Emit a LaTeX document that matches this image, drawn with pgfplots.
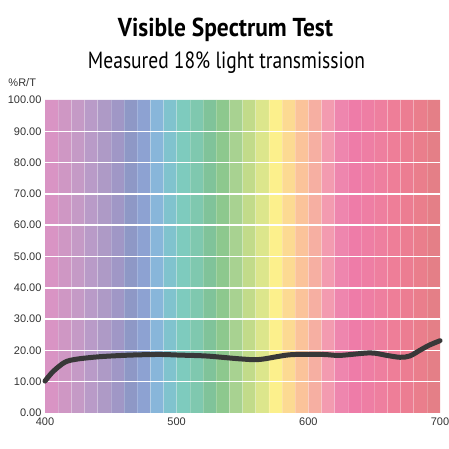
\documentclass[border=0pt]{standalone}
\usepackage{graphicx}
\usepackage{fontspec}
\setmainfont{Liberation Sans}
\newfontfamily\titlefont{PT Sans}
\usepackage{pgfplots}
\pgfplotsset{compat=1.18}
\definecolor{s1}{HTML}{D994C4}
\definecolor{s2}{HTML}{CF97C4}
\definecolor{s3}{HTML}{C59AC6}
\definecolor{s4}{HTML}{B99BC8}
\definecolor{s5}{HTML}{AE9AC6}
\definecolor{s6}{HTML}{A097C6}
\definecolor{s7}{HTML}{8E98C6}
\definecolor{s8}{HTML}{8DA2D2}
\definecolor{s9}{HTML}{88B6DA}
\definecolor{s10}{HTML}{80C3CE}
\definecolor{s11}{HTML}{7ECBBE}
\definecolor{s12}{HTML}{7FC8AF}
\definecolor{s13}{HTML}{80C39A}
\definecolor{s14}{HTML}{8DC88E}
\definecolor{s15}{HTML}{A8D291}
\definecolor{s16}{HTML}{C2DB8A}
\definecolor{s17}{HTML}{DCE68C}
\definecolor{s18}{HTML}{FCF08C}
\definecolor{s19}{HTML}{FCDA92}
\definecolor{s20}{HTML}{FBC39A}
\definecolor{s21}{HTML}{F6AFA2}
\definecolor{s22}{HTML}{F39BB0}
\definecolor{s23}{HTML}{EE86AE}
\definecolor{s24}{HTML}{EE7CA8}
\definecolor{s25}{HTML}{EE7EA4}
\definecolor{s26}{HTML}{EE7F9F}
\definecolor{s27}{HTML}{EE7E98}
\definecolor{s28}{HTML}{EC7D92}
\definecolor{s29}{HTML}{EA7E8C}
\definecolor{s30}{HTML}{E47F87}
\definecolor{curve}{HTML}{383838}
\definecolor{ticktext}{HTML}{333333}
\begin{document}
\begin{tikzpicture}[x=1bp,y=1bp]
\path[use as bounding box] (0,0) rectangle (449,449);
\node[anchor=base] at (225.5,412.3) {\resizebox{215bp}{18.5bp}{\titlefont\bfseries Visible Spectrum Test}};
\node[anchor=base] at (226.5,380.7) {\resizebox{277bp}{16.7bp}{\titlefont Measured 18\% light transmission}};
\node[anchor=base west, inner sep=0pt, text=ticktext, font=\fontsize{11bp}{13bp}\selectfont] at (8.3,362.3) {\%R/T};
\begin{axis}[
  at={(45bp,36bp)}, anchor=south west,
  scale only axis, width=395bp, height=313bp,
  xmin=400, xmax=700, ymin=0, ymax=100,
  axis line style={draw=none},
  major tick length=0pt, minor tick length=0pt,
  xtick={400,500,600,700},
  ytick={0,10,...,100},
  tick label style={font=\fontsize{11bp}{13bp}\selectfont, text=ticktext},
  /pgf/number format/assume math mode=true,
  yticklabel style={/pgf/number format/.cd, fixed, fixed zerofill, precision=2},
  xticklabel style={yshift=-1.6bp},
  clip=false,
  unbounded coords=jump,
]
\addplot[fill=s1,draw=none] coordinates {(400,0)(400,100)(410,100)(410,0)} \closedcycle;
\addplot[fill=s2,draw=none] coordinates {(410,0)(410,100)(420,100)(420,0)} \closedcycle;
\addplot[fill=s3,draw=none] coordinates {(420,0)(420,100)(430,100)(430,0)} \closedcycle;
\addplot[fill=s4,draw=none] coordinates {(430,0)(430,100)(440,100)(440,0)} \closedcycle;
\addplot[fill=s5,draw=none] coordinates {(440,0)(440,100)(450,100)(450,0)} \closedcycle;
\addplot[fill=s6,draw=none] coordinates {(450,0)(450,100)(460,100)(460,0)} \closedcycle;
\addplot[fill=s7,draw=none] coordinates {(460,0)(460,100)(470,100)(470,0)} \closedcycle;
\addplot[fill=s8,draw=none] coordinates {(470,0)(470,100)(480,100)(480,0)} \closedcycle;
\addplot[fill=s9,draw=none] coordinates {(480,0)(480,100)(490,100)(490,0)} \closedcycle;
\addplot[fill=s10,draw=none] coordinates {(490,0)(490,100)(500,100)(500,0)} \closedcycle;
\addplot[fill=s11,draw=none] coordinates {(500,0)(500,100)(510,100)(510,0)} \closedcycle;
\addplot[fill=s12,draw=none] coordinates {(510,0)(510,100)(520,100)(520,0)} \closedcycle;
\addplot[fill=s13,draw=none] coordinates {(520,0)(520,100)(530,100)(530,0)} \closedcycle;
\addplot[fill=s14,draw=none] coordinates {(530,0)(530,100)(540,100)(540,0)} \closedcycle;
\addplot[fill=s15,draw=none] coordinates {(540,0)(540,100)(550,100)(550,0)} \closedcycle;
\addplot[fill=s16,draw=none] coordinates {(550,0)(550,100)(560,100)(560,0)} \closedcycle;
\addplot[fill=s17,draw=none] coordinates {(560,0)(560,100)(570,100)(570,0)} \closedcycle;
\addplot[fill=s18,draw=none] coordinates {(570,0)(570,100)(580,100)(580,0)} \closedcycle;
\addplot[fill=s19,draw=none] coordinates {(580,0)(580,100)(590,100)(590,0)} \closedcycle;
\addplot[fill=s20,draw=none] coordinates {(590,0)(590,100)(600,100)(600,0)} \closedcycle;
\addplot[fill=s21,draw=none] coordinates {(600,0)(600,100)(610,100)(610,0)} \closedcycle;
\addplot[fill=s22,draw=none] coordinates {(610,0)(610,100)(620,100)(620,0)} \closedcycle;
\addplot[fill=s23,draw=none] coordinates {(620,0)(620,100)(630,100)(630,0)} \closedcycle;
\addplot[fill=s24,draw=none] coordinates {(630,0)(630,100)(640,100)(640,0)} \closedcycle;
\addplot[fill=s25,draw=none] coordinates {(640,0)(640,100)(650,100)(650,0)} \closedcycle;
\addplot[fill=s26,draw=none] coordinates {(650,0)(650,100)(660,100)(660,0)} \closedcycle;
\addplot[fill=s27,draw=none] coordinates {(660,0)(660,100)(670,100)(670,0)} \closedcycle;
\addplot[fill=s28,draw=none] coordinates {(670,0)(670,100)(680,100)(680,0)} \closedcycle;
\addplot[fill=s29,draw=none] coordinates {(680,0)(680,100)(690,100)(690,0)} \closedcycle;
\addplot[fill=s30,draw=none] coordinates {(690,0)(690,100)(700,100)(700,0)} \closedcycle;
% faint stripe separators
\addplot[white, opacity=0.2, line width=0.6bp] coordinates {
(410,0)(410,100)(415,nan)(420,0)(420,100)(425,nan)(430,0)(430,100)(435,nan)
(440,0)(440,100)(445,nan)(450,0)(450,100)(455,nan)(460,0)(460,100)(465,nan)
(470,0)(470,100)(475,nan)(480,0)(480,100)(485,nan)(490,0)(490,100)(495,nan)
(500,0)(500,100)(505,nan)(510,0)(510,100)(515,nan)(520,0)(520,100)(525,nan)
(530,0)(530,100)(535,nan)(540,0)(540,100)(545,nan)(550,0)(550,100)(555,nan)
(560,0)(560,100)(565,nan)(570,0)(570,100)(575,nan)(580,0)(580,100)(585,nan)
(590,0)(590,100)(595,nan)(600,0)(600,100)(605,nan)(610,0)(610,100)(615,nan)
(620,0)(620,100)(625,nan)(630,0)(630,100)(635,nan)(640,0)(640,100)(645,nan)
(650,0)(650,100)(655,nan)(660,0)(660,100)(665,nan)(670,0)(670,100)(675,nan)
(680,0)(680,100)(685,nan)(690,0)(690,100)};
% horizontal grid
\addplot[white, line width=1.5bp] coordinates {
(400,10)(700,10)(550,nan)(400,20)(700,20)(550,nan)(400,30)(700,30)(550,nan)
(400,40)(700,40)(550,nan)(400,50)(700,50)(550,nan)(400,60)(700,60)(550,nan)
(400,70)(700,70)(550,nan)(400,80)(700,80)(550,nan)(400,90)(700,90)};
% measured curve
\addplot[curve, line width=5bp, line cap=round, line join=round, smooth, tension=0.5] coordinates {
(400,10.2)(406,13.2)(415,16.2)(424,17.2)(442,18.0)(465,18.5)(487,18.7)(502,18.5)
(523,18.2)(548,17.3)(563,17.1)(586,18.6)(611,18.7)(624,18.4)(647,19.2)(659.5,18.4)
(669.6,17.8)(677,18.2)(685,20.1)(692,21.7)(700,23.1)};
\end{axis}
\end{tikzpicture}
\end{document}
